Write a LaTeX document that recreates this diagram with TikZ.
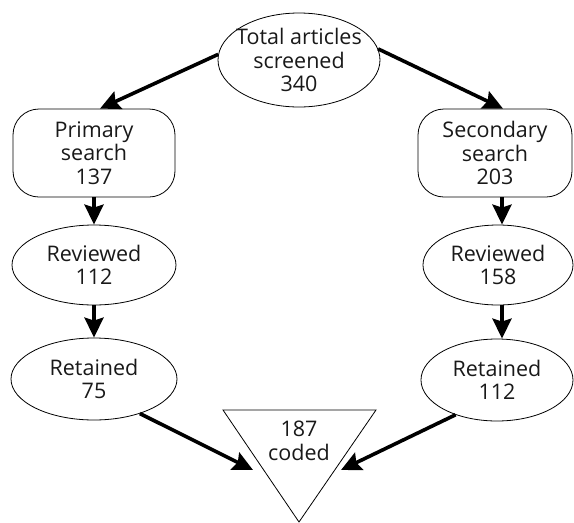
\documentclass[tikz,border=0pt]{standalone}
\usepackage{fontspec}
\setmainfont{Open Sans}
\usetikzlibrary{shapes.geometric,arrows.meta}
\tikzset{
  txt/.style={font=\fontsize{21.5}{23.5}\selectfont, align=center, text=black!90},
  ell/.style={txt, draw, ellipse, line width=0.8pt, inner sep=0pt},
  rbox/.style={txt, draw, rectangle, rounded corners=26pt, line width=0.8pt, inner sep=0pt},
  arr/.style={line width=3.6pt, -{Stealth[length=20pt,width=19pt,inset=3pt]}, shorten >=0pt},
}
\begin{document}
\begin{tikzpicture}[x=1pt,y=-1pt]
\useasboundingbox (0,0) rectangle (574,523);
\node[ell, inner xsep=-9pt, inner ysep=-5pt, minimum width=162pt, minimum height=94pt] (top) at (299,60) {Total articles\\screened\\340};
\node[rbox, minimum width=162pt, minimum height=88pt] (prim) at (94,153) {Primary\\search\\137};
\node[rbox, minimum width=154pt, minimum height=88pt] (sec) at (495,153) {Secondary\\search\\203};
\node[ell, minimum width=164pt, minimum height=80pt] (rev1) at (94,265) {Reviewed\\112};
\node[ell, minimum width=150pt, minimum height=80pt] (rev2) at (498,265) {Reviewed\\158};
\node[ell, minimum width=166pt, minimum height=82pt] (ret1) at (94,379) {Retained\\75};
\node[ell, minimum width=152pt, minimum height=82pt] (ret2) at (497,380) {Retained\\112};
\coordinate (tA) at (223,410);
\coordinate (tB) at (376,410);
\coordinate (tC) at (299,522);
\draw[line width=0.8pt, line join=miter] (tA) -- (tB) -- (tC) -- cycle;
\node[txt] (coded) at (299,441) {187\\coded};
\coordinate (inL) at (253,470);
\coordinate (inR) at (341,470);
\draw[arr] (top.176) -- ([xshift=6pt]prim.north);
\draw[arr] (top.8) -- ([xshift=8pt]sec.north);
\draw[arr] (prim.south) -- (rev1.north);
\draw[arr] (rev1.south) -- (ret1.north);
\draw[arr] ([xshift=7pt]sec.south) -- ([xshift=7pt]sec.south |- rev2.north);
\draw[arr] ([xshift=4pt]rev2.south) -- ([xshift=4pt]rev2.south |- ret2.north);
\draw[arr] (ret1.-37) -- (inL);
\draw[arr] (ret2.-140) -- (inR);
\end{tikzpicture}
\end{document}
